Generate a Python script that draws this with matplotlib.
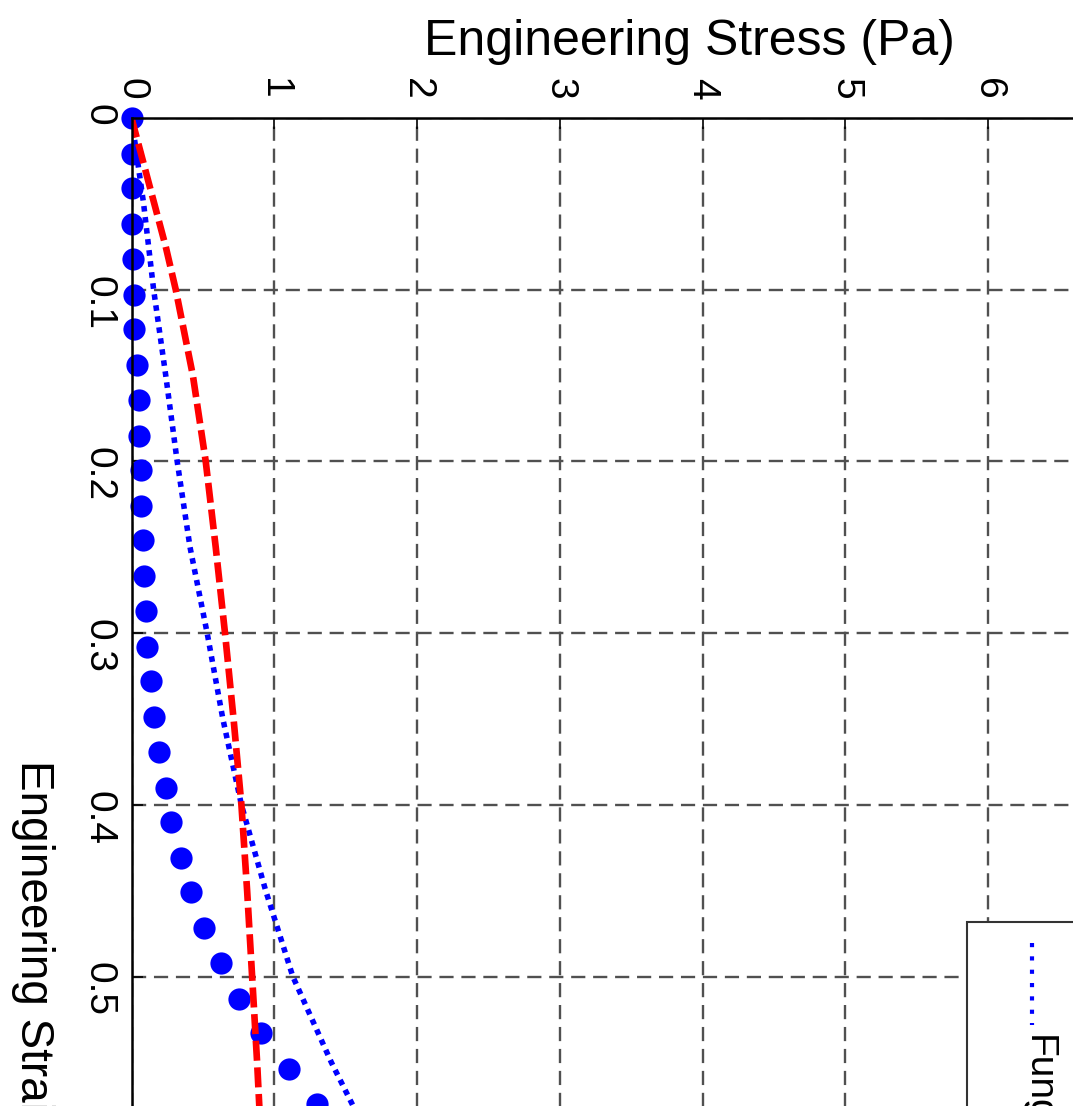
import numpy as np
import matplotlib
matplotlib.use("Agg")
import matplotlib.pyplot as plt
from matplotlib.patches import Rectangle
from matplotlib.lines import Line2D

plt.rcParams['font.family'] = ['Liberation Sans', 'DejaVu Sans']

# experimental points (strain, stress in Pa)
exp_strain = [0.000, 0.021, 0.041, 0.062, 0.082, 0.103, 0.123, 0.144, 0.164, 0.185,
              0.205, 0.226, 0.246, 0.267, 0.287, 0.308, 0.328, 0.349, 0.369, 0.390,
              0.410, 0.431, 0.451, 0.472, 0.492, 0.513, 0.533, 0.554, 0.574, 0.595]
exp_stress = [0.00, 0.00, 0.00, 0.00, 0.01, 0.02, 0.02, 0.04, 0.05, 0.05,
              0.07, 0.07, 0.08, 0.09, 0.10, 0.11, 0.14, 0.16, 0.19, 0.24,
              0.28, 0.35, 0.42, 0.51, 0.63, 0.75, 0.91, 1.10, 1.30, 1.53]

# Fung fit (blue dotted)
fung_strain = [0, 0.05, 0.1, 0.15, 0.2, 0.25, 0.3, 0.35, 0.4, 0.45, 0.5, 0.55, 0.6]
fung_stress = [0, 0.085, 0.155, 0.24, 0.32, 0.41, 0.53, 0.64, 0.77, 0.94, 1.13, 1.40, 1.70]

# second fit (red dashed)
fit2_strain = [0, 0.025, 0.05, 0.075, 0.1, 0.125, 0.15, 0.2, 0.25, 0.3, 0.35, 0.4,
               0.45, 0.5, 0.55, 0.6]
fit2_stress = [0, 0.08, 0.16, 0.24, 0.31, 0.37, 0.43, 0.52, 0.59, 0.655, 0.715, 0.77,
               0.81, 0.845, 0.88, 0.91]

stress_ticks = [0, 1, 2, 3, 4, 5, 6]
strain_ticks = [0, 0.1, 0.2, 0.3, 0.4, 0.5]
strain_labels = ['0', '0.1', '0.2', '0.3', '0.4', '0.5']

W, H = 1073, 1106
fig = plt.figure(figsize=(W / 100, H / 100), dpi=100)

# plot turned on its side: stress runs across, strain runs down
ax = fig.add_axes([131.5 / W, -729 / H, 1142 / W, 1717 / H])
ax.set_xlim(0, 8)
ax.set_ylim(1.0, 0)
ax.xaxis.tick_top()
ax.set_xticks(stress_ticks)
ax.set_xticklabels([str(t) for t in stress_ticks])
ax.set_yticks(strain_ticks)
ax.set_yticklabels(strain_labels)
ax.tick_params(direction='in', length=8, width=1.2, labelsize=28, colors='black')
ax.tick_params(axis='x', pad=13, labelrotation=-90)
ax.tick_params(axis='y', pad=10.5, labelrotation=-90)
for sp in ax.spines.values():
    sp.set_linewidth(1.8)
ax.set_axisbelow(True)
ax.grid(True, color='#505050', linestyle=(0, (6, 3.3)), linewidth=1.7)

ax.plot(exp_stress, exp_strain, 'o', color='#0000ff', markersize=16,
        markeredgewidth=0, clip_on=False)
ax.plot(fung_stress, fung_strain, color='#0000ff', linewidth=4,
        linestyle=(0, (1, 1)), dash_capstyle='butt')
ax.plot(fit2_stress, fit2_strain, color='#ff0000', linewidth=4.8,
        linestyle=(0, (3.0, 1.0)), dash_capstyle='butt')

fig.text(689 / W, 1 - 42 / H, 'Engineering Stress (Pa)', fontsize=36,
         ha='center', va='center')
fig.text(33 / W, 1 - 760 / H, 'Engineering Strain', fontsize=33,
         rotation=-90, ha='center', va='top')

# legend box, drawn by hand so the entry can be turned like the rest
fig.add_artist(Rectangle((967 / W, -0.2), 0.5, (H - 922) / H + 0.2,
                         transform=fig.transFigure, facecolor='white',
                         edgecolor='#333333', linewidth=1.5, zorder=5))
fig.add_artist(Line2D([1032 / W, 1032 / W], [1 - 943 / H, 1 - 1025 / H],
                      transform=fig.transFigure, color='#0000ff', linewidth=3,
                      linestyle=(0, (1, 2.2)), zorder=6))
fig.text(1038 / W, 1 - 1035 / H, 'Fung', fontsize=28, rotation=-90,
         ha='center', va='top', zorder=7)

fig.savefig('out.png', dpi=100)
